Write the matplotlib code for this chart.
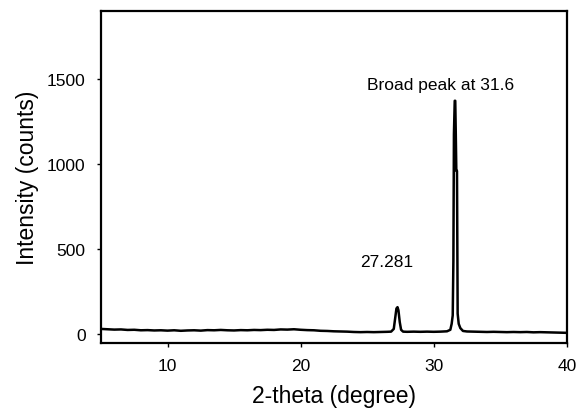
import matplotlib
matplotlib.use('Agg')
import matplotlib.pyplot as plt

plt.rcParams['font.family'] = ['Liberation Sans', 'DejaVu Sans']

# 2-theta (degree) and intensity (counts)
two_theta = [5.0, 5.5, 6.0, 6.5, 7.0, 7.5, 8.0, 8.5, 9.0, 9.5,
             10.0, 10.5, 11.0, 11.5, 12.0, 12.5, 13.0, 13.5, 14.0, 14.5,
             15.0, 15.5, 16.0, 16.5, 17.0, 17.5, 18.0, 18.5, 19.0, 19.5,
             20.0, 20.5, 21.0, 21.5, 22.0, 22.5, 23.0, 23.5, 24.0, 24.5,
             25.0, 25.5, 26.0, 26.5, 26.8, 27.0, 27.1, 27.2, 27.28, 27.35,
             27.45, 27.55, 27.7, 28.0, 28.5, 29.0, 29.5, 30.0, 30.5, 31.0,
             31.25, 31.35, 31.43, 31.48, 31.52, 31.58, 31.62, 31.66, 31.7, 31.75,
             31.8, 31.88, 32.0, 32.2, 32.5, 33.0, 33.5, 34.0, 34.5, 35.0,
             35.5, 36.0, 36.5, 37.0, 37.5, 38.0, 38.5, 39.0, 39.5, 40.0]
intensity = [30, 28, 26, 27, 24, 25, 22, 23, 21, 22,
             20, 22, 19, 21, 22, 20, 23, 22, 24, 22,
             21, 23, 22, 24, 23, 25, 24, 27, 26, 28,
             25, 23, 22, 19, 18, 16, 15, 14, 12, 11,
             12, 11, 12, 13, 14, 30, 90, 150, 158, 140,
             70, 25, 14, 13, 14, 13, 14, 13, 14, 16,
             25, 60, 110, 431, 1176, 1372, 1372, 1176, 960, 960,
             120, 60, 35, 18, 15, 14, 13, 12, 13, 12,
             11, 12, 11, 12, 10, 11, 10, 9, 8, 7]

fig = plt.figure(figsize=(5.76, 4.14), dpi=100)
ax = fig.add_axes([0.1753, 0.169, 0.8087, 0.802])
ax.plot(two_theta, intensity, color='k', linewidth=1.8)

ax.set_xlim(5, 40)
ax.set_ylim(-53, 1900)
ax.set_xticks([10, 20, 30, 40])
ax.set_yticks([0, 500, 1000, 1500])
ax.tick_params(direction='out', length=3, width=1, pad=8, labelsize=12.5,
               colors='k', top=False, right=False)
for s in ax.spines.values():
    s.set_linewidth(1.6)

ax.set_xlabel('2-theta (degree)', fontsize=16.5, labelpad=8)
ax.set_ylabel('Intensity (counts)', fontsize=16.5, labelpad=6)

ax.text(30.55, 1470, 'Broad peak at 31.6', ha='center', va='center', fontsize=12.5)
ax.text(26.48, 425, '27.281', ha='center', va='center', fontsize=12.5)

fig.savefig('out.png', dpi=100)
